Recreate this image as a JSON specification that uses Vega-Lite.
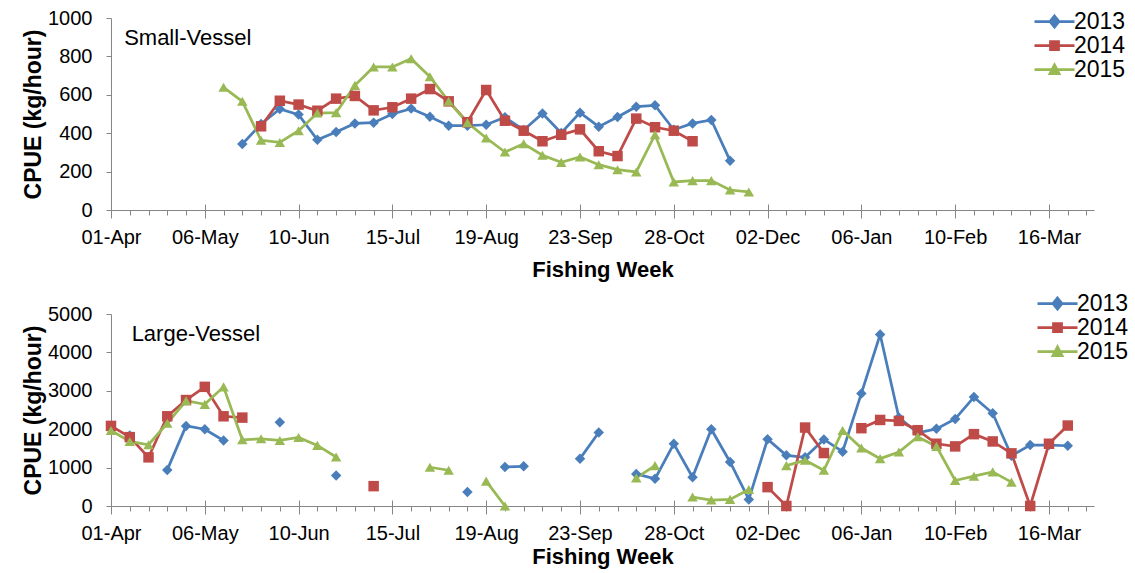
{
  "$schema": "https://vega.github.io/schema/vega-lite/v6.json",
  "padding": {"left": 22, "top": 8, "right": 5, "bottom": 2},
  "background": "white",
  "config": {
    "font": "Liberation Sans",
    "view": {"stroke": null},
    "axis": {"grid": false, "domainColor": "#868686", "tickColor": "#868686", "labelFont": "Liberation Sans", "labelFontSize": 20, "labelColor": "#000000", "titleFont": "Liberation Sans", "titleFontSize": 22, "titleFontWeight": "bold", "titleColor": "#000000"},
    "legend": {"orient": "none", "title": null, "symbolSize": 100, "labelFontSize": 23, "labelFont": "Liberation Sans", "labelColor": "#000000", "labelOffset": 3, "padding": 0},
    "concat": {"spacing": 12}
  },
  "datasets": {
    "small": [
      {"year": "2013", "week": 7, "cpue": 344}, {"year": "2013", "week": 8, "cpue": 448}, {"year": "2013", "week": 9, "cpue": 526}, {"year": "2013", "week": 10, "cpue": 497}, {"year": "2013", "week": 11, "cpue": 366}, {"year": "2013", "week": 12, "cpue": 406}, {"year": "2013", "week": 13, "cpue": 451}, {"year": "2013", "week": 14, "cpue": 455}, {"year": "2013", "week": 15, "cpue": 500}, {"year": "2013", "week": 16, "cpue": 528}, {"year": "2013", "week": 17, "cpue": 486}, {"year": "2013", "week": 18, "cpue": 439}, {"year": "2013", "week": 19, "cpue": 439}, {"year": "2013", "week": 20, "cpue": 444}, {"year": "2013", "week": 21, "cpue": 483}, {"year": "2013", "week": 22, "cpue": 417}, {"year": "2013", "week": 23, "cpue": 503}, {"year": "2013", "week": 24, "cpue": 401}, {"year": "2013", "week": 25, "cpue": 507}, {"year": "2013", "week": 26, "cpue": 434}, {"year": "2013", "week": 27, "cpue": 484}, {"year": "2013", "week": 28, "cpue": 538}, {"year": "2013", "week": 29, "cpue": 545}, {"year": "2013", "week": 30, "cpue": 418}, {"year": "2013", "week": 31, "cpue": 451}, {"year": "2013", "week": 32, "cpue": 469}, {"year": "2013", "week": 33, "cpue": 257},
      {"year": "2014", "week": 8, "cpue": 436}, {"year": "2014", "week": 9, "cpue": 569}, {"year": "2014", "week": 10, "cpue": 549}, {"year": "2014", "week": 11, "cpue": 517}, {"year": "2014", "week": 12, "cpue": 580}, {"year": "2014", "week": 13, "cpue": 594}, {"year": "2014", "week": 14, "cpue": 519}, {"year": "2014", "week": 15, "cpue": 535}, {"year": "2014", "week": 16, "cpue": 580}, {"year": "2014", "week": 17, "cpue": 630}, {"year": "2014", "week": 18, "cpue": 566}, {"year": "2014", "week": 19, "cpue": 457}, {"year": "2014", "week": 20, "cpue": 625}, {"year": "2014", "week": 21, "cpue": 465}, {"year": "2014", "week": 22, "cpue": 413}, {"year": "2014", "week": 23, "cpue": 358}, {"year": "2014", "week": 24, "cpue": 392}, {"year": "2014", "week": 25, "cpue": 420}, {"year": "2014", "week": 26, "cpue": 306}, {"year": "2014", "week": 27, "cpue": 281}, {"year": "2014", "week": 28, "cpue": 476}, {"year": "2014", "week": 29, "cpue": 431}, {"year": "2014", "week": 30, "cpue": 413}, {"year": "2014", "week": 31, "cpue": 358},
      {"year": "2015", "week": 6, "cpue": 639}, {"year": "2015", "week": 7, "cpue": 566}, {"year": "2015", "week": 8, "cpue": 363}, {"year": "2015", "week": 9, "cpue": 352}, {"year": "2015", "week": 10, "cpue": 413}, {"year": "2015", "week": 11, "cpue": 505}, {"year": "2015", "week": 12, "cpue": 507}, {"year": "2015", "week": 13, "cpue": 649}, {"year": "2015", "week": 14, "cpue": 745}, {"year": "2015", "week": 15, "cpue": 745}, {"year": "2015", "week": 16, "cpue": 788}, {"year": "2015", "week": 17, "cpue": 694}, {"year": "2015", "week": 18, "cpue": 566}, {"year": "2015", "week": 19, "cpue": 455}, {"year": "2015", "week": 20, "cpue": 375}, {"year": "2015", "week": 21, "cpue": 302}, {"year": "2015", "week": 22, "cpue": 345}, {"year": "2015", "week": 23, "cpue": 285}, {"year": "2015", "week": 24, "cpue": 248}, {"year": "2015", "week": 25, "cpue": 276}, {"year": "2015", "week": 26, "cpue": 236}, {"year": "2015", "week": 27, "cpue": 210}, {"year": "2015", "week": 28, "cpue": 198}, {"year": "2015", "week": 29, "cpue": 392}, {"year": "2015", "week": 30, "cpue": 146}, {"year": "2015", "week": 31, "cpue": 153}, {"year": "2015", "week": 32, "cpue": 153}, {"year": "2015", "week": 33, "cpue": 104}, {"year": "2015", "week": 34, "cpue": 94}
    ],
    "large": [
      {"year": "2013", "week": 1, "cpue": 1836}, {"year": "2013", "week": 2, "cpue": null}, {"year": "2013", "week": 3, "cpue": 940}, {"year": "2013", "week": 4, "cpue": 2086}, {"year": "2013", "week": 5, "cpue": 2000}, {"year": "2013", "week": 6, "cpue": 1707}, {"year": "2013", "week": 7, "cpue": null}, {"year": "2013", "week": 9, "cpue": 2181}, {"year": "2013", "week": 10, "cpue": null}, {"year": "2013", "week": 12, "cpue": 793}, {"year": "2013", "week": 13, "cpue": null}, {"year": "2013", "week": 19, "cpue": 362}, {"year": "2013", "week": 20, "cpue": null}, {"year": "2013", "week": 21, "cpue": 1017}, {"year": "2013", "week": 22, "cpue": 1034}, {"year": "2013", "week": 23, "cpue": null}, {"year": "2013", "week": 25, "cpue": 1233}, {"year": "2013", "week": 26, "cpue": 1914}, {"year": "2013", "week": 27, "cpue": null}, {"year": "2013", "week": 28, "cpue": 836}, {"year": "2013", "week": 29, "cpue": 707}, {"year": "2013", "week": 30, "cpue": 1621}, {"year": "2013", "week": 31, "cpue": 750}, {"year": "2013", "week": 32, "cpue": 2000}, {"year": "2013", "week": 33, "cpue": 1147}, {"year": "2013", "week": 34, "cpue": 172}, {"year": "2013", "week": 35, "cpue": 1741}, {"year": "2013", "week": 36, "cpue": 1319}, {"year": "2013", "week": 37, "cpue": 1267}, {"year": "2013", "week": 38, "cpue": 1733}, {"year": "2013", "week": 39, "cpue": 1414}, {"year": "2013", "week": 40, "cpue": 2931}, {"year": "2013", "week": 41, "cpue": 4466}, {"year": "2013", "week": 42, "cpue": 2302}, {"year": "2013", "week": 43, "cpue": 1905}, {"year": "2013", "week": 44, "cpue": 2009}, {"year": "2013", "week": 45, "cpue": 2267}, {"year": "2013", "week": 46, "cpue": 2836}, {"year": "2013", "week": 47, "cpue": 2414}, {"year": "2013", "week": 48, "cpue": 1310}, {"year": "2013", "week": 49, "cpue": 1586}, {"year": "2013", "week": 50, "cpue": 1586}, {"year": "2013", "week": 51, "cpue": 1569},
      {"year": "2014", "week": 0, "cpue": 2086}, {"year": "2014", "week": 1, "cpue": 1793}, {"year": "2014", "week": 2, "cpue": 1267}, {"year": "2014", "week": 3, "cpue": 2336}, {"year": "2014", "week": 4, "cpue": 2759}, {"year": "2014", "week": 5, "cpue": 3103}, {"year": "2014", "week": 6, "cpue": 2336}, {"year": "2014", "week": 7, "cpue": 2302}, {"year": "2014", "week": 8, "cpue": null}, {"year": "2014", "week": 14, "cpue": 517}, {"year": "2014", "week": 15, "cpue": null}, {"year": "2014", "week": 35, "cpue": 491}, {"year": "2014", "week": 36, "cpue": 0}, {"year": "2014", "week": 37, "cpue": 2043}, {"year": "2014", "week": 38, "cpue": 1379}, {"year": "2014", "week": 39, "cpue": null}, {"year": "2014", "week": 40, "cpue": 2026}, {"year": "2014", "week": 41, "cpue": 2241}, {"year": "2014", "week": 42, "cpue": 2216}, {"year": "2014", "week": 43, "cpue": 1974}, {"year": "2014", "week": 44, "cpue": 1621}, {"year": "2014", "week": 45, "cpue": 1552}, {"year": "2014", "week": 46, "cpue": 1871}, {"year": "2014", "week": 47, "cpue": 1681}, {"year": "2014", "week": 48, "cpue": 1371}, {"year": "2014", "week": 49, "cpue": 0}, {"year": "2014", "week": 50, "cpue": 1621}, {"year": "2014", "week": 51, "cpue": 2095},
      {"year": "2015", "week": 0, "cpue": 1966}, {"year": "2015", "week": 1, "cpue": 1681}, {"year": "2015", "week": 2, "cpue": 1595}, {"year": "2015", "week": 3, "cpue": 2155}, {"year": "2015", "week": 4, "cpue": 2741}, {"year": "2015", "week": 5, "cpue": 2647}, {"year": "2015", "week": 6, "cpue": 3103}, {"year": "2015", "week": 7, "cpue": 1724}, {"year": "2015", "week": 8, "cpue": 1750}, {"year": "2015", "week": 9, "cpue": 1707}, {"year": "2015", "week": 10, "cpue": 1784}, {"year": "2015", "week": 11, "cpue": 1578}, {"year": "2015", "week": 12, "cpue": 1276}, {"year": "2015", "week": 13, "cpue": null}, {"year": "2015", "week": 17, "cpue": 1009}, {"year": "2015", "week": 18, "cpue": 931}, {"year": "2015", "week": 19, "cpue": null}, {"year": "2015", "week": 20, "cpue": 647}, {"year": "2015", "week": 21, "cpue": 0}, {"year": "2015", "week": 22, "cpue": null}, {"year": "2015", "week": 28, "cpue": 733}, {"year": "2015", "week": 29, "cpue": 1052}, {"year": "2015", "week": 30, "cpue": null}, {"year": "2015", "week": 31, "cpue": 233}, {"year": "2015", "week": 32, "cpue": 155}, {"year": "2015", "week": 33, "cpue": 172}, {"year": "2015", "week": 34, "cpue": 431}, {"year": "2015", "week": 35, "cpue": null}, {"year": "2015", "week": 36, "cpue": 1052}, {"year": "2015", "week": 37, "cpue": 1190}, {"year": "2015", "week": 38, "cpue": 931}, {"year": "2015", "week": 39, "cpue": 1966}, {"year": "2015", "week": 40, "cpue": 1509}, {"year": "2015", "week": 41, "cpue": 1233}, {"year": "2015", "week": 42, "cpue": 1405}, {"year": "2015", "week": 43, "cpue": 1802}, {"year": "2015", "week": 44, "cpue": 1552}, {"year": "2015", "week": 45, "cpue": 664}, {"year": "2015", "week": 46, "cpue": 776}, {"year": "2015", "week": 47, "cpue": 888}, {"year": "2015", "week": 48, "cpue": 621}
    ]
  },
  "resolve": {"scale": {"x": "independent", "y": "independent", "color": "independent", "shape": "independent"}, "legend": {"color": "independent", "shape": "independent"}},
  "vconcat": [
    {
      "width": 983,
      "height": 192,
      "resolve": {"axis": {"x": "independent", "y": "independent"}},
      "layer": [
        {
          "data": {"name": "small"},
          "mark": {"type": "line", "strokeWidth": 2.75, "invalid": "break-paths-filter-domains"},
          "encoding": {
            "x": {"field": "week", "type": "quantitative", "scale": {"domain": [0, 52.4], "nice": false, "zero": false},
              "axis": {"orient": "bottom", "values": [0, 5, 10, 15, 20, 25, 30, 35, 40, 45, 50], "labelExpr": "['01-Apr','06-May','10-Jun','15-Jul','19-Aug','23-Sep','28-Oct','02-Dec','06-Jan','10-Feb','16-Mar'][round(datum.value / 5)]", "tickSize": 8, "labelPadding": 9, "labelFlush": false, "labelOverlap": false, "title": "Fishing Week", "titlePadding": 12, "domainWidth": 1}},
            "y": {"field": "cpue", "type": "quantitative", "scale": {"domain": [0, 1000], "nice": false},
              "axis": {"orient": "left", "values": [0, 200, 400, 600, 800, 1000], "format": "d", "tickSize": 5, "labelPadding": 14, "title": "CPUE (kg/hour)", "titleFontSize": 23, "titlePadding": 2, "labelFlush": false}},
            "color": {"field": "year", "type": "nominal", "scale": {"domain": ["2013", "2014", "2015"], "range": ["#4A7EBB", "#BE4B48", "#98B954"]},
              "legend": {"legendX": 937, "legendY": -8, "rowPadding": -2,
                "encode": {"symbols": {"update": {
                  "shape": {"signal": "datum.value === '2013' ? 'M-5,0L3,0M-1,-1.1L-0.1,0L-1,1.1L-1.9,0Z' : datum.value === '2014' ? 'M-5,0L3,0M-1.8,-0.8L-0.2,-0.8L-0.2,0.8L-1.8,0.8Z' : 'M-5,0L3,0M-1,-0.9L-0.1,0.8L-1.9,0.8Z'"},
                  "fill": {"signal": "datum.value === '2013' ? '#4A7EBB' : datum.value === '2014' ? '#BE4B48' : '#98B954'"},
                  "stroke": {"signal": "datum.value === '2013' ? '#4A7EBB' : datum.value === '2014' ? '#BE4B48' : '#98B954'"},
                  "strokeWidth": {"value": 2.75},
                  "opacity": {"value": 1}}}}}}
          }
        },
        {
          "data": {"name": "small"},
          "mark": {"type": "point", "filled": true, "size": 110, "opacity": 1},
          "encoding": {
            "x": {"field": "week", "type": "quantitative", "scale": {"domain": [0, 52.4], "nice": false, "zero": false},
              "axis": {"orient": "bottom", "values": [0,1,2,3,4,5,6,7,8,9,10,11,12,13,14,15,16,17,18,19,20,21,22,23,24,25,26,27,28,29,30,31,32,33,34,35,36,37,38,39,40,41,42,43,44,45,46,47,48,49,50,51,52], "labels": false, "domain": false, "tickSize": 5, "title": null}},
            "y": {"field": "cpue", "type": "quantitative", "axis": null},
            "color": {"field": "year", "type": "nominal",
              "legend": {"legendX": 937, "legendY": -8, "rowPadding": -2,
                "encode": {"symbols": {"update": {
                  "shape": {"signal": "datum.value === '2013' ? 'M-5,0L3,0M-1,-1.1L-0.1,0L-1,1.1L-1.9,0Z' : datum.value === '2014' ? 'M-5,0L3,0M-1.8,-0.8L-0.2,-0.8L-0.2,0.8L-1.8,0.8Z' : 'M-5,0L3,0M-1,-0.9L-0.1,0.8L-1.9,0.8Z'"},
                  "fill": {"signal": "datum.value === '2013' ? '#4A7EBB' : datum.value === '2014' ? '#BE4B48' : '#98B954'"},
                  "stroke": {"signal": "datum.value === '2013' ? '#4A7EBB' : datum.value === '2014' ? '#BE4B48' : '#98B954'"},
                  "strokeWidth": {"value": 2.75},
                  "opacity": {"value": 1}}}}}},
            "shape": {"field": "year", "type": "nominal", "scale": {"domain": ["2015", "2014", "2013"], "range": ["triangle-up", "square", "diamond"]}, "legend": null}
          }
        },
        {
          "data": {"values": [{"label": "Small-Vessel"}]},
          "mark": {"type": "text", "align": "left", "baseline": "middle", "fontSize": 22, "font": "Liberation Sans", "color": "#000000"},
          "encoding": {
            "x": {"datum": 0.7, "type": "quantitative", "axis": {"orient": "bottom", "values": [0, 5, 10, 15, 20, 25, 30, 35, 40, 45, 50], "labels": false, "domain": false, "tickSize": -6, "title": null}},
            "y": {"datum": 896, "type": "quantitative", "axis": null},
            "text": {"field": "label"}
          }
        }
      ]
    },
    {
      "width": 983,
      "height": 192,
      "resolve": {"axis": {"x": "independent", "y": "independent"}},
      "layer": [
        {
          "data": {"name": "large"},
          "mark": {"type": "line", "strokeWidth": 2.75, "invalid": "break-paths-filter-domains"},
          "encoding": {
            "x": {"field": "week", "type": "quantitative", "scale": {"domain": [0, 52.4], "nice": false, "zero": false},
              "axis": {"orient": "bottom", "values": [0, 5, 10, 15, 20, 25, 30, 35, 40, 45, 50], "labelExpr": "['01-Apr','06-May','10-Jun','15-Jul','19-Aug','23-Sep','28-Oct','02-Dec','06-Jan','10-Feb','16-Mar'][round(datum.value / 5)]", "tickSize": 8, "labelPadding": 9, "labelFlush": false, "labelOverlap": false, "title": "Fishing Week", "titlePadding": 3, "domainWidth": 1}},
            "y": {"field": "cpue", "type": "quantitative", "scale": {"domain": [0, 5000], "nice": false},
              "axis": {"orient": "left", "values": [0, 1000, 2000, 3000, 4000, 5000], "format": "d", "tickSize": 5, "labelPadding": 14, "title": "CPUE (kg/hour)", "titleFontSize": 23, "titlePadding": 2, "labelFlush": false}},
            "color": {"field": "year", "type": "nominal", "scale": {"domain": ["2013", "2014", "2015"], "range": ["#4A7EBB", "#BE4B48", "#98B954"]},
              "legend": {"legendX": 940, "legendY": -22, "rowPadding": -4,
                "encode": {"symbols": {"update": {
                  "shape": {"signal": "datum.value === '2013' ? 'M-5,0L3,0M-1,-1.1L-0.1,0L-1,1.1L-1.9,0Z' : datum.value === '2014' ? 'M-5,0L3,0M-1.8,-0.8L-0.2,-0.8L-0.2,0.8L-1.8,0.8Z' : 'M-5,0L3,0M-1,-0.9L-0.1,0.8L-1.9,0.8Z'"},
                  "fill": {"signal": "datum.value === '2013' ? '#4A7EBB' : datum.value === '2014' ? '#BE4B48' : '#98B954'"},
                  "stroke": {"signal": "datum.value === '2013' ? '#4A7EBB' : datum.value === '2014' ? '#BE4B48' : '#98B954'"},
                  "strokeWidth": {"value": 2.75},
                  "opacity": {"value": 1}}}}}}
          }
        },
        {
          "data": {"name": "large"},
          "mark": {"type": "point", "filled": true, "size": 110, "opacity": 1},
          "encoding": {
            "x": {"field": "week", "type": "quantitative", "scale": {"domain": [0, 52.4], "nice": false, "zero": false},
              "axis": {"orient": "bottom", "values": [0,1,2,3,4,5,6,7,8,9,10,11,12,13,14,15,16,17,18,19,20,21,22,23,24,25,26,27,28,29,30,31,32,33,34,35,36,37,38,39,40,41,42,43,44,45,46,47,48,49,50,51,52], "labels": false, "domain": false, "tickSize": 5, "title": null}},
            "y": {"field": "cpue", "type": "quantitative", "axis": null},
            "color": {"field": "year", "type": "nominal",
              "legend": {"legendX": 940, "legendY": -22, "rowPadding": -4,
                "encode": {"symbols": {"update": {
                  "shape": {"signal": "datum.value === '2013' ? 'M-5,0L3,0M-1,-1.1L-0.1,0L-1,1.1L-1.9,0Z' : datum.value === '2014' ? 'M-5,0L3,0M-1.8,-0.8L-0.2,-0.8L-0.2,0.8L-1.8,0.8Z' : 'M-5,0L3,0M-1,-0.9L-0.1,0.8L-1.9,0.8Z'"},
                  "fill": {"signal": "datum.value === '2013' ? '#4A7EBB' : datum.value === '2014' ? '#BE4B48' : '#98B954'"},
                  "stroke": {"signal": "datum.value === '2013' ? '#4A7EBB' : datum.value === '2014' ? '#BE4B48' : '#98B954'"},
                  "strokeWidth": {"value": 2.75},
                  "opacity": {"value": 1}}}}}},
            "shape": {"field": "year", "type": "nominal", "scale": {"domain": ["2015", "2014", "2013"], "range": ["triangle-up", "square", "diamond"]}, "legend": null}
          }
        },
        {
          "data": {"values": [{"label": "Large-Vessel"}]},
          "mark": {"type": "text", "align": "left", "baseline": "middle", "fontSize": 22, "font": "Liberation Sans", "color": "#000000"},
          "encoding": {
            "x": {"datum": 1.1, "type": "quantitative", "axis": {"orient": "bottom", "values": [0, 5, 10, 15, 20, 25, 30, 35, 40, 45, 50], "labels": false, "domain": false, "tickSize": -6, "title": null}},
            "y": {"datum": 4483, "type": "quantitative", "axis": null},
            "text": {"field": "label"}
          }
        }
      ]
    }
  ]
}
